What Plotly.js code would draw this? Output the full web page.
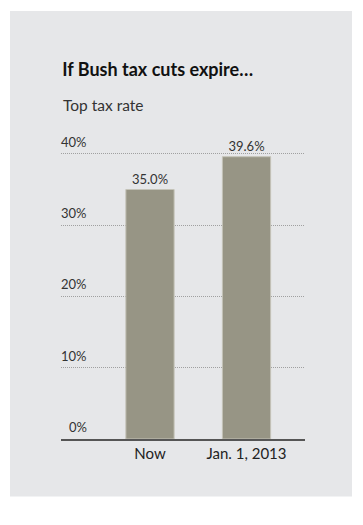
<!DOCTYPE html>
<html>
<head>
<meta charset="utf-8">
<script src="https://cdn.plot.ly/plotly-3.0.1.min.js"></script>
<style>html,body{margin:0;padding:0;background:#fff;}#chart{width:363px;height:525px;}</style>
</head>
<body>
<div id="chart"></div>
<script>
var categories = ["Now", "Jan. 1, 2013"];
var rates = [35.0, 39.6];
var rateLabels = ["35.0%", "39.6%"];
var yTickVals = [0, 10, 20, 30, 40];
var yTickText = ["0%", "10%", "20%", "30%", "40%"];

var FONT = "Lato, 'DejaVu Sans', sans-serif";

var trace = {
  type: "bar",
  x: [0, 1],
  y: rates,
  width: 0.5,
  text: rateLabels,
  textposition: "outside",
  cliponaxis: false,
  constraintext: "none",
  textfont: {family: FONT, size: 13, color: "#333"},
  marker: {color: "#979585", line: {color: "#c4c3b8", width: 1}},
  hoverinfo: "none"
};

var plotTop = 154 - 0.4 * 7.1375;
var plotH = 439.5 - plotTop;

var annotations = [{
  text: "Top tax rate",
  xref: "paper", yref: "paper",
  x: 0.0, y: (439.5 - 105) / plotH,
  xanchor: "left", yanchor: "middle",
  showarrow: false,
  font: {family: FONT, size: 15.5, color: "#333"}
}];
yTickVals.forEach(function (v, i) {
  annotations.push({
    text: yTickText[i],
    xref: "paper", yref: "y",
    x: (89 - 61) / 244, y: v,
    xanchor: "right", yanchor: "middle",
    yshift: 12,
    showarrow: false,
    font: {family: FONT, size: 13, color: "#333"}
  });
});

var layout = {
  width: 363,
  height: 525,
  margin: {l: 61, r: 58, t: plotTop, b: 85.5, pad: 0},
  paper_bgcolor: "#ffffff",
  plot_bgcolor: "rgba(0,0,0,0)",
  showlegend: false,
  font: {family: FONT, color: "#333"},
  title: {
    text: "<b>If Bush tax cuts expire…</b>",
    font: {family: FONT, size: 18, color: "#111"},
    xref: "paper", x: 0.005, xanchor: "left",
    yref: "container", y: 1 - 70 / 525, yanchor: "middle"
  },
  annotations: annotations,
  shapes: [{
    type: "rect", xref: "paper", yref: "paper", layer: "below",
    x0: (10 - 61) / 244, x1: (352 - 61) / 244,
    y0: (439.5 - 497) / plotH, y1: (439.5 - 11) / plotH,
    fillcolor: "#e6e7e9", line: {width: 0}
  }],
  xaxis: {
    range: [-0.922, 1.606],
    tickvals: [0, 1],
    ticktext: categories,
    showgrid: false,
    zeroline: false,
    showline: true,
    linecolor: "#555",
    linewidth: 1.5,
    ticks: "",
    tickfont: {family: FONT, size: 15, color: "#222"},
    fixedrange: true
  },
  yaxis: {
    range: [0, 40.4],
    tickvals: yTickVals,
    showticklabels: false,
    showgrid: true,
    gridcolor: "#a0a0a0",
    gridwidth: 1,
    griddash: "1px,1px",
    zeroline: false,
    showline: false,
    ticks: "",
    fixedrange: true
  }
};

Plotly.newPlot("chart", [trace], layout, {displayModeBar: false, staticPlot: true});
</script>
</body>
</html>
